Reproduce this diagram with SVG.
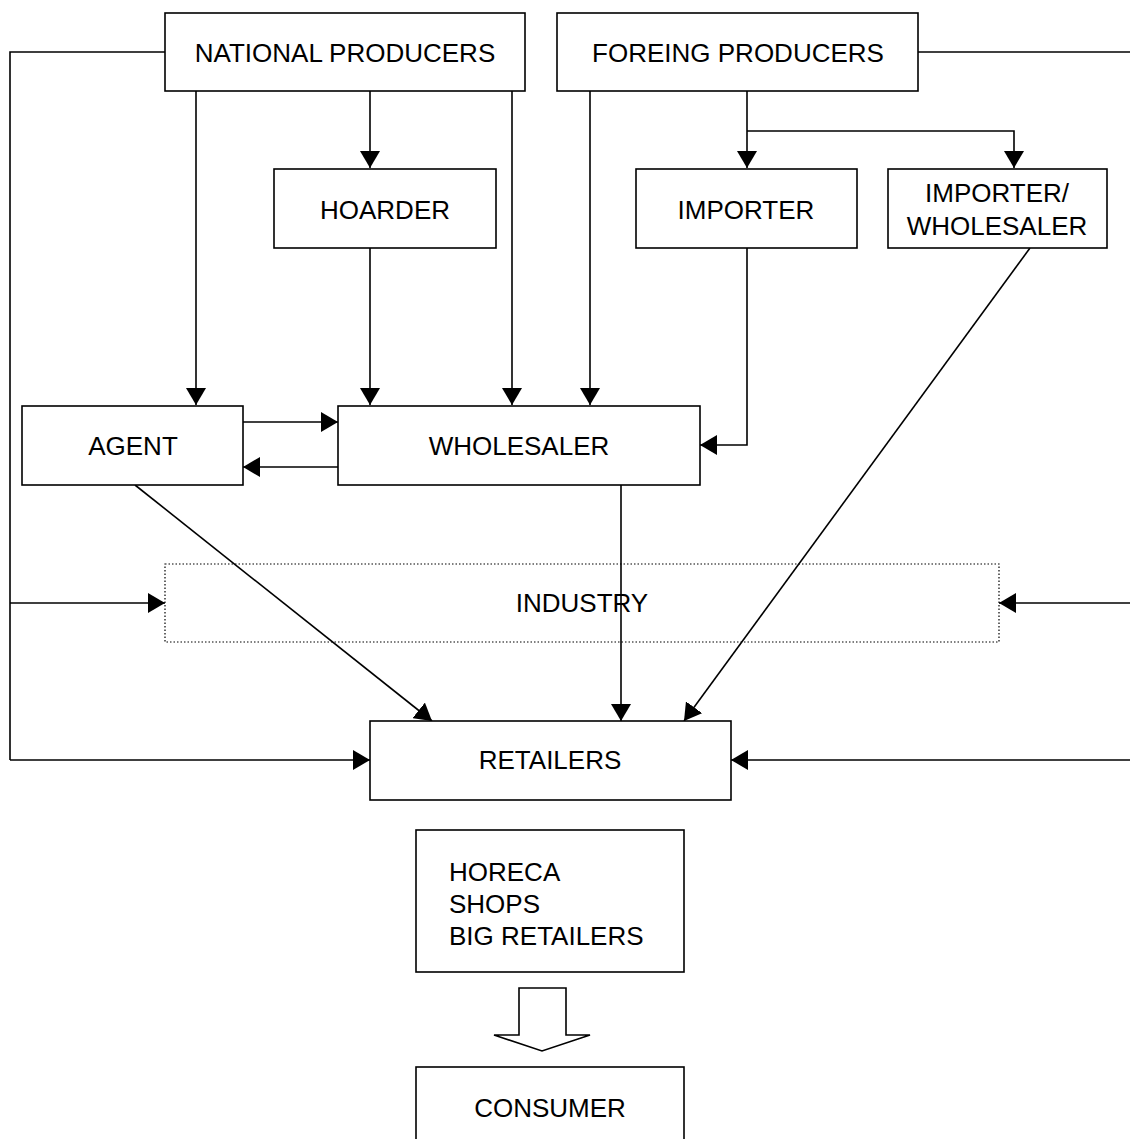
<svg xmlns="http://www.w3.org/2000/svg" width="1130" height="1139" viewBox="0 0 1130 1139">
<style>
.box{fill:#fff;stroke:#000;stroke-width:1.6}
.dot{fill:none;stroke:#000;stroke-width:1.2;stroke-dasharray:1.5 2}
.ln{fill:none;stroke:#000;stroke-width:1.6}
.arr{fill:none;stroke:#000;stroke-width:1.6;marker-end:url(#ah)}
text{font-family:"Liberation Sans",Arial,sans-serif;font-size:26px;fill:#000}
.c{text-anchor:middle}
</style>
<defs>
<marker id="ah" markerUnits="userSpaceOnUse" markerWidth="18" markerHeight="20" refX="17" refY="10" orient="auto" viewBox="0 0 18 20">
<path d="M0,0 L17,10 L0,20 z" fill="#000"/>
</marker>
</defs>
<rect width="1130" height="1139" fill="#fff"/>
<g id="connectors">
<polyline class="ln" points="165,52 10,52 10,760"/>
<line class="arr" x1="10" y1="603" x2="165" y2="603"/>
<line class="arr" x1="10" y1="760" x2="370" y2="760"/>
<line class="ln" x1="918" y1="52" x2="1130" y2="52"/>
<line class="arr" x1="1130" y1="603" x2="999" y2="603"/>
<line class="arr" x1="1130" y1="760" x2="731" y2="760"/>
<line class="arr" x1="196" y1="91" x2="196" y2="405"/>
<line class="arr" x1="370" y1="91" x2="370" y2="168"/>
<line class="arr" x1="512" y1="91" x2="512" y2="405"/>
<line class="arr" x1="370" y1="248" x2="370" y2="405"/>
<line class="arr" x1="590" y1="91" x2="590" y2="405"/>
<line class="arr" x1="747" y1="91" x2="747" y2="168"/>
<polyline class="arr" points="747,131 1014,131 1014,168"/>
<polyline class="arr" points="747,248 747,445 700,445"/>
<line class="arr" x1="243" y1="422" x2="338" y2="422"/>
<line class="arr" x1="338" y1="467" x2="243" y2="467"/>
<line class="arr" x1="135" y1="485" x2="432" y2="721"/>
<line class="arr" x1="621" y1="485" x2="621" y2="721"/>
<line class="arr" x1="1030" y1="248" x2="684" y2="721"/>
<polygon class="box" points="519,988 566,988 566,1035 590,1035 542,1051 494,1035 519,1035"/>
</g>
<g id="national-producers"><rect class="box" x="165" y="13" width="360" height="78"/><text class="c" x="345" y="62">NATIONAL PRODUCERS</text></g>
<g id="foreing-producers"><rect class="box" x="557" y="13" width="361" height="78"/><text class="c" x="738" y="62">FOREING PRODUCERS</text></g>
<g id="hoarder"><rect class="box" x="274" y="169" width="222" height="79"/><text class="c" x="385" y="219">HOARDER</text></g>
<g id="importer"><rect class="box" x="636" y="169" width="221" height="79"/><text class="c" x="746" y="219">IMPORTER</text></g>
<g id="importer-wholesaler"><rect class="box" x="888" y="169" width="219" height="79"/><text class="c" x="997" y="202">IMPORTER/</text><text class="c" x="997" y="235">WHOLESALER</text></g>
<g id="agent"><rect class="box" x="22" y="406" width="221" height="79"/><text class="c" x="133" y="455">AGENT</text></g>
<g id="wholesaler"><rect class="box" x="338" y="406" width="362" height="79"/><text class="c" x="519" y="455">WHOLESALER</text></g>
<g id="industry"><rect class="dot" x="165" y="564" width="834" height="78"/><text class="c" x="582" y="612">INDUSTRY</text></g>
<g id="retailers"><rect class="box" x="370" y="721" width="361" height="79"/><text class="c" x="550" y="769">RETAILERS</text></g>
<g id="horeca"><rect class="box" x="416" y="830" width="268" height="142"/><text x="449" y="881">HORECA</text><text x="449" y="913">SHOPS</text><text x="449" y="945">BIG RETAILERS</text></g>
<g id="consumer"><rect class="box" x="416" y="1067" width="268" height="90"/><text class="c" x="550" y="1117">CONSUMER</text></g>
</svg>
